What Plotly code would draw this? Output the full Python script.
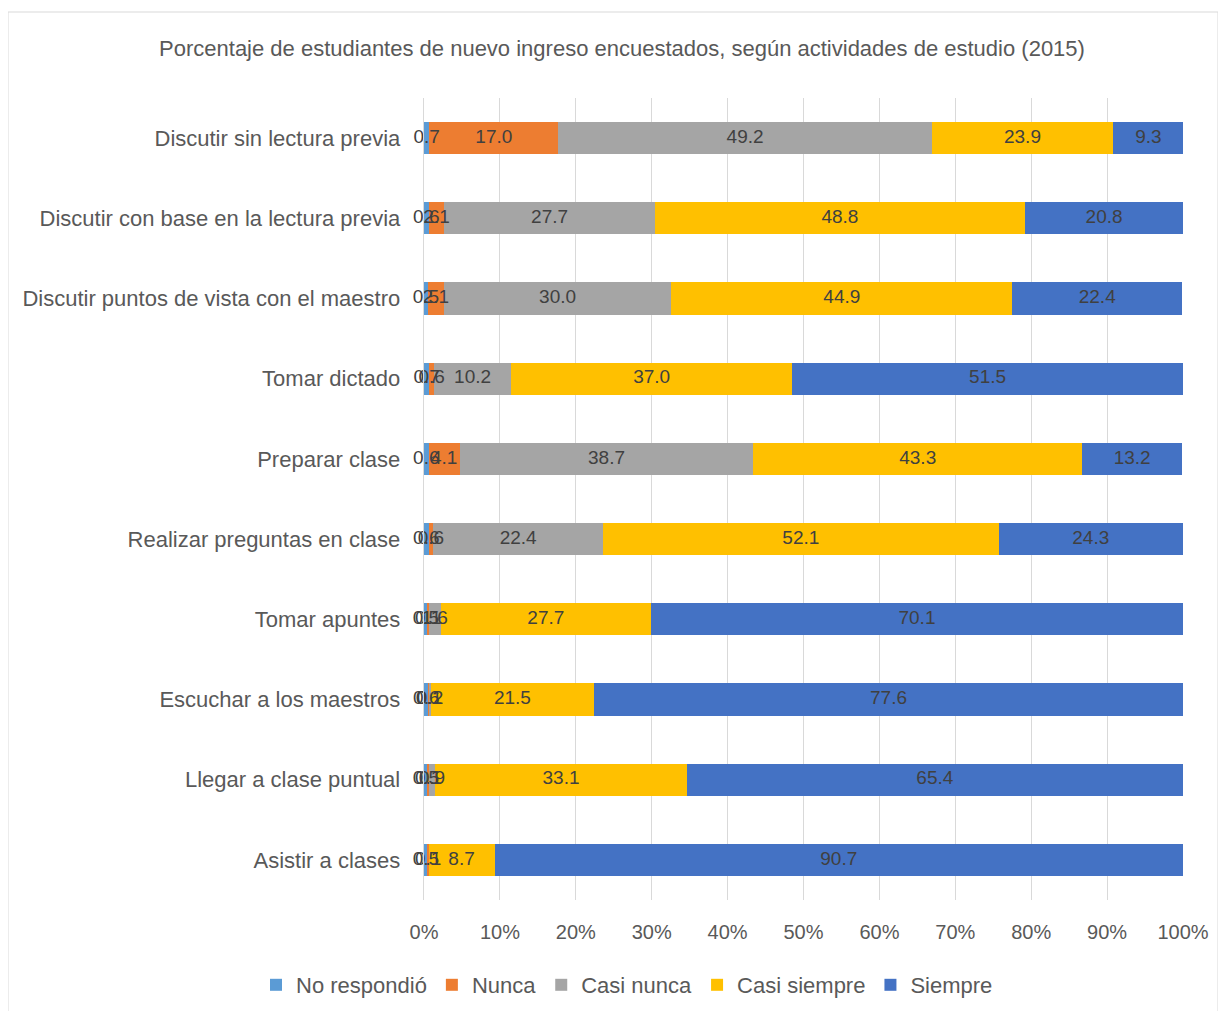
import plotly.graph_objects as go

categories = [
    "Discutir sin lectura previa",
    "Discutir con base en la lectura previa",
    "Discutir puntos de vista con el maestro",
    "Tomar dictado",
    "Preparar clase",
    "Realizar preguntas en clase",
    "Tomar apuntes",
    "Escuchar a los maestros",
    "Llegar a clase puntual",
    "Asistir a clases",
]

no_respondio = [0.7, 0.6, 0.5, 0.7, 0.6, 0.6, 0.5, 0.6, 0.5, 0.5]
nunca = [17.0, 2.1, 2.1, 0.6, 4.1, 0.6, 0.1, 0.1, 0.1, 0.1]
casi_nunca = [49.2, 27.7, 30.0, 10.2, 38.7, 22.4, 1.6, 0.2, 0.9, 0.0]
casi_siempre = [23.9, 48.8, 44.9, 37.0, 43.3, 52.1, 27.7, 21.5, 33.1, 8.7]
siempre = [9.3, 20.8, 22.4, 51.5, 13.2, 24.3, 70.1, 77.6, 65.4, 90.7]

series = [
    ("No respondió", no_respondio, "#5B9BD5"),
    ("Nunca", nunca, "#ED7D31"),
    ("Casi nunca", casi_nunca, "#A5A5A5"),
    ("Casi siempre", casi_siempre, "#FFC000"),
    ("Siempre", siempre, "#4472C4"),
]

FONT = "Liberation Sans Narrow, Arial Narrow, Liberation Sans, Arial, sans-serif"

fig = go.Figure()
for name, vals, color in series:
    fig.add_trace(go.Bar(
        y=categories, x=vals, name=name, orientation="h",
        marker=dict(color=color, line=dict(width=0)),
    ))

# data labels on top of all bars
base = [0.0] * len(categories)
for name, vals, color in series:
    mids, txt, ys = [], [], []
    for i, v in enumerate(vals):
        if v > 0:
            mids.append(base[i] + v / 2)
            txt.append(f"{v:.1f}")
            ys.append(categories[i])
        base[i] += v
    fig.add_trace(go.Scatter(
        x=mids, y=ys, mode="text", text=txt, showlegend=False,
        textfont=dict(color="#404040", size=19, family=FONT),
        textposition="middle center",
        hoverinfo="skip", cliponaxis=False,
    ))

W, H = 1210, 1003
OFF = 8
L, T = 424 - OFF, 98 - OFF
PR, PB = 1183 - OFF, 900 - OFF
R, B = W - PR, H - PB
pw = PR - L
ph = PB - T

def px(x):
    return (x - OFF - L) / pw

def py(y):
    return 1 - (y - OFF - T) / ph

fig.update_layout(
    barmode="stack",
    width=W, height=H,
    margin=dict(l=L, r=R, t=T, b=B, autoexpand=False),
    paper_bgcolor="white", plot_bgcolor="white",
    font=dict(family=FONT, color="#595959", size=20),
    bargap=0.6,
    title=dict(
        text="Porcentaje de estudiantes de nuevo ingreso encuestados, según actividades de estudio (2015)",
        x=px(622), xref="paper", xanchor="center",
        y=1 - (48 - OFF) / H, yanchor="middle",
        font=dict(size=22, color="#595959", family=FONT),
    ),
    xaxis=dict(
        range=[0, 100], tickvals=list(range(0, 101, 10)),
        ticktext=[f"{v}%" for v in range(0, 101, 10)],
        showgrid=True, gridcolor="#D9D9D9", gridwidth=1,
        zeroline=False, showline=False, ticks="",
        tickfont=dict(size=20, color="#595959"),
        ticklabelstandoff=18,
        fixedrange=True,
    ),
    yaxis=dict(
        categoryorder="array", categoryarray=categories[::-1],
        showgrid=False, zeroline=False, ticks="",
        showline=True, linecolor="#D9D9D9", linewidth=1,
        tickfont=dict(size=22, color="#595959"),
        ticksuffix="   ",
    ),
    legend=dict(
        orientation="h", x=px(627), xanchor="center",
        y=py(985), yanchor="middle",
        font=dict(size=22, color="#595959"),
        traceorder="normal", itemwidth=30,
        bgcolor="rgba(0,0,0,0)",
    ),
    showlegend=True,
)

fig.add_shape(
    type="rect", xref="paper", yref="paper",
    x0=px(8), x1=px(1218), y0=py(1015), y1=py(12),
    line=dict(color="#D9D9D9", width=1), fillcolor="rgba(0,0,0,0)",
    layer="below",
)

fig.write_html("out.html")
